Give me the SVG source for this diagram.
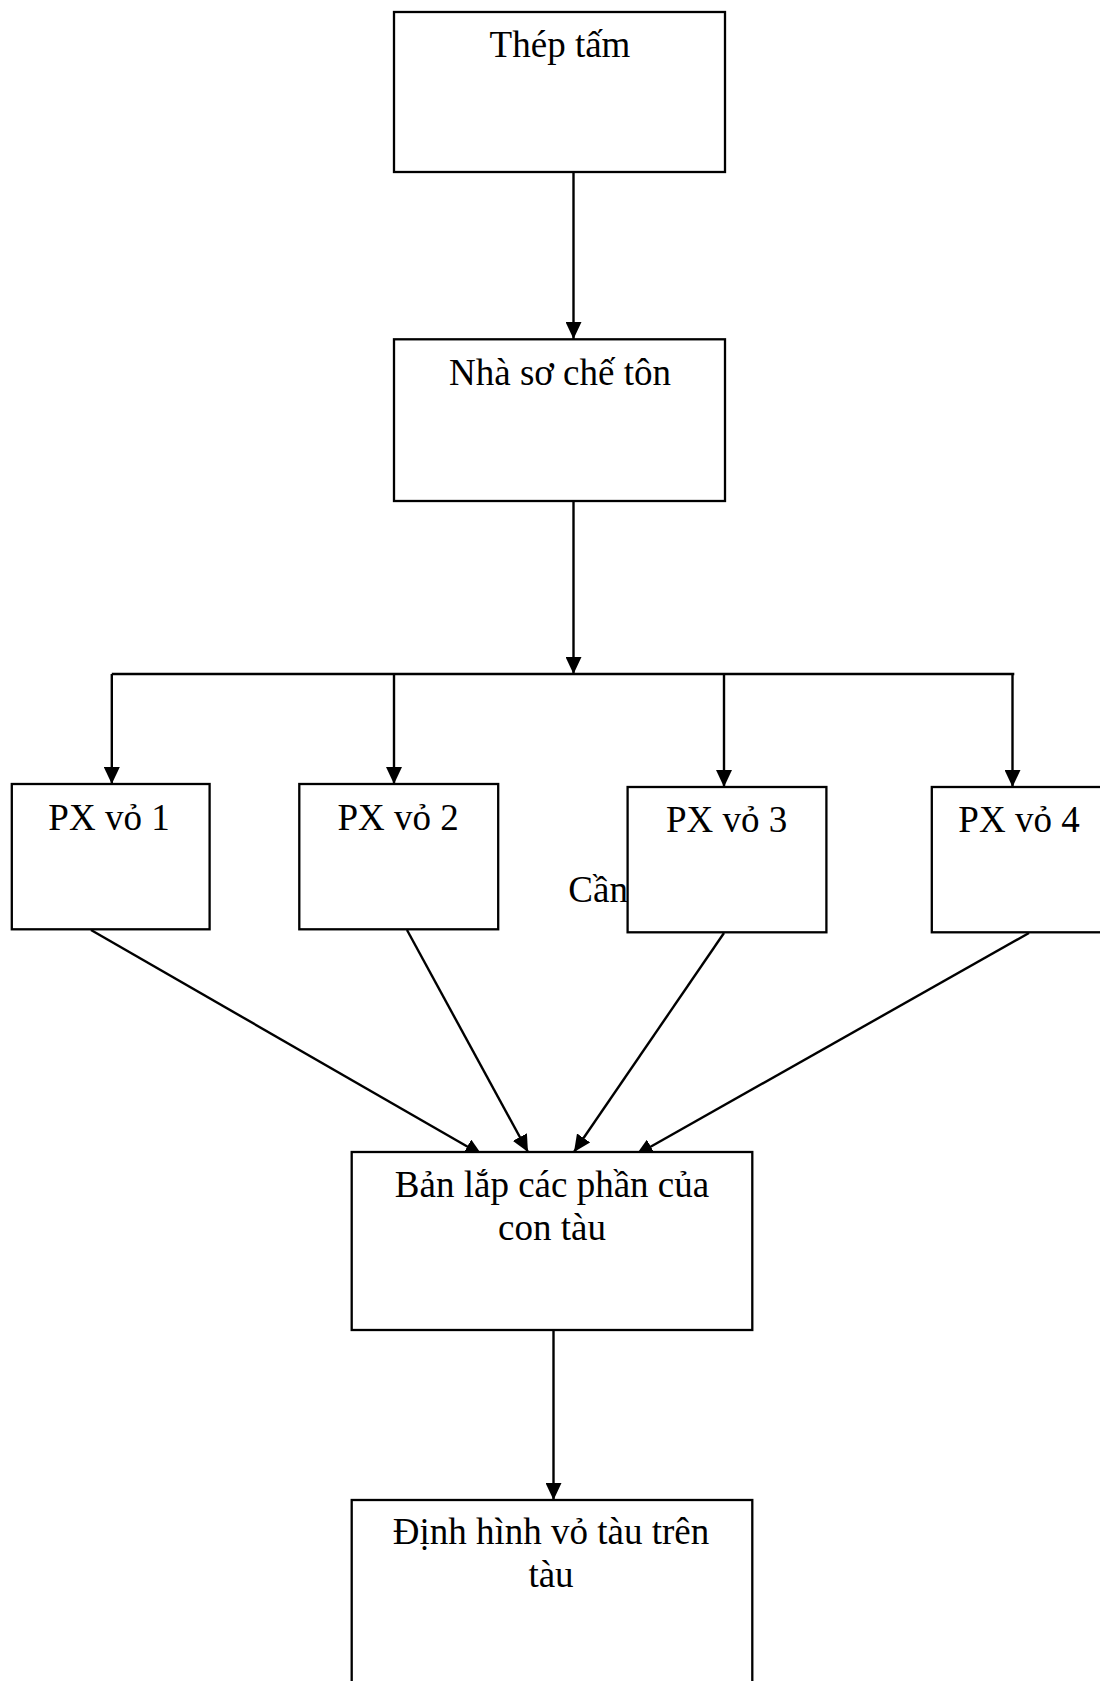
<svg xmlns="http://www.w3.org/2000/svg" width="1100" height="1681" viewBox="0 0 1100 1681">
<style>
.box{fill:#fff;stroke:#000;stroke-width:2.3}
.lbl{font-family:"Liberation Serif","Times New Roman",serif;font-size:37px;fill:#000;text-anchor:middle}
.free{font-family:"Liberation Serif","Times New Roman",serif;font-size:37px;fill:#000}
.conn{stroke:#000;stroke-width:2.4;fill:none}
.arr{marker-end:url(#ah)}
</style>
<defs>
<marker id="ah" markerUnits="userSpaceOnUse" markerWidth="17" markerHeight="16" viewBox="0 0 17 16" refX="17" refY="8" orient="auto">
<path d="M0,0 L17,8 L0,16 z" fill="#000"/>
</marker>
</defs>
<rect width="1100" height="1681" fill="#fff"/>
<g id="connectors">
<line class="conn arr" x1="573.5" y1="172" x2="573.5" y2="339"/>
<line class="conn arr" x1="573.5" y1="501" x2="573.5" y2="674"/>
<line class="conn" x1="111.8" y1="674" x2="1014.3" y2="674"/>
<line class="conn arr" x1="111.8" y1="674" x2="111.8" y2="784"/>
<line class="conn arr" x1="394" y1="674" x2="394" y2="784"/>
<line class="conn arr" x1="724" y1="674" x2="724" y2="787"/>
<line class="conn arr" x1="1012.5" y1="674" x2="1012.5" y2="787"/>
<line class="conn arr" x1="91" y1="930" x2="482" y2="1155"/>
<line class="conn arr" x1="407" y1="930" x2="528" y2="1152"/>
<line class="conn arr" x1="724" y1="933" x2="574" y2="1152"/>
<line class="conn arr" x1="1029" y1="933" x2="636" y2="1155"/>
<line class="conn arr" x1="553.5" y1="1330" x2="553.5" y2="1500"/>
</g>
<g id="stray-text">
<text class="free" x="568.3" y="901.7">Cần</text>
</g>
<g id="node-thep-tam">
<rect class="box" x="394" y="12" width="331" height="160"/>
<text class="lbl" x="560" y="57">Thép tấm</text>
</g>
<g id="node-nha-so-che-ton">
<rect class="box" x="394" y="339.3" width="331" height="161.7"/>
<text class="lbl" x="560" y="385">Nhà sơ chế tôn</text>
</g>
<g id="node-px-vo-1">
<rect class="box" x="11.8" y="784" width="197.8" height="145.3"/>
<text class="lbl" x="109" y="830">PX vỏ 1</text>
</g>
<g id="node-px-vo-2">
<rect class="box" x="299.3" y="784" width="198.9" height="145.3"/>
<text class="lbl" x="398.2" y="830">PX vỏ 2</text>
</g>
<g id="node-px-vo-3">
<rect class="box" x="627.6" y="787" width="198.8" height="145.3"/>
<text class="lbl" x="726.6" y="831.7">PX vỏ 3</text>
</g>
<g id="node-px-vo-4">
<rect class="box" x="931.8" y="787" width="199" height="145.3"/>
<text class="lbl" x="1019" y="831.7">PX vỏ 4</text>
</g>
<g id="node-ban-lap">
<rect class="box" x="351.7" y="1152" width="400.6" height="178"/>
<text class="lbl" x="552" y="1197.3">Bản lắp các phần của</text>
<text class="lbl" x="552" y="1240">con tàu</text>
</g>
<g id="node-dinh-hinh">
<rect class="box" x="351.7" y="1500" width="400.6" height="220"/>
<text class="lbl" x="551" y="1544">Định hình vỏ tàu trên</text>
<text class="lbl" x="551" y="1587">tàu</text>
</g>
</svg>
